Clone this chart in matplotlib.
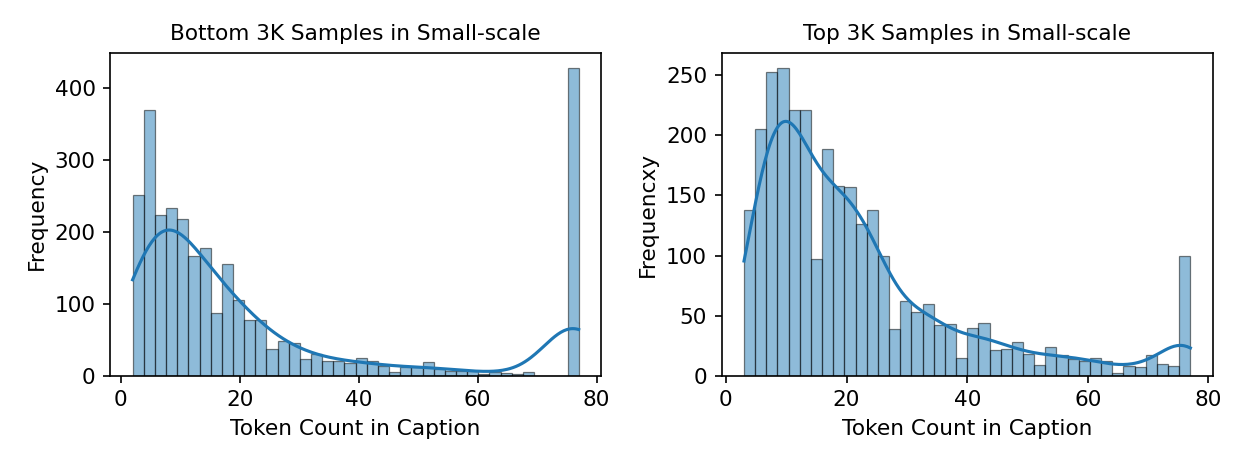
import numpy as np
import matplotlib
matplotlib.use("Agg")
import matplotlib.pyplot as plt

plt.rcParams["font.size"] = 10.4

# token-count histograms (40 bins each), counts
bottom_range = (2, 77)
bottom_counts = [252, 369, 223, 234, 218, 166, 177, 87, 155, 105,
                 77, 78, 37, 48, 45, 23, 30, 20, 20, 17,
                 24, 20, 14, 5, 12, 12, 19, 10, 7, 7,
                 6, 3, 5, 4, 3, 5, 0, 0, 0, 428]

top_range = (3, 77)
top_counts = [138, 205, 253, 256, 221, 221, 97, 189, 158, 157,
              126, 138, 100, 39, 62, 53, 60, 42, 43, 15,
              40, 44, 21, 22, 28, 18, 9, 24, 17, 14,
              12, 15, 12, 2, 8, 7, 17, 10, 8, 100]

titles = ["Bottom 3K Samples in Small-scale", "Top 3K Samples in Small-scale"]
ylabels = ["Frequency", "Frequencxy"]
xlabel = "Token Count in Caption"


def kde_curve(centers, counts, lo, hi, binw):
    # gaussian kde with scott bandwidth, scaled to counts like seaborn does
    w = np.asarray(counts, float)
    n = w.sum()
    mean = (w * centers).sum() / n
    var = (w * (centers - mean) ** 2).sum() / (n - 1) + binw ** 2 / 12
    bw = np.sqrt(var) * n ** (-1 / 5)
    grid = np.linspace(lo, hi, 300)
    z = (grid[:, None] - centers[None, :]) / bw
    dens = (w[None, :] * np.exp(-0.5 * z ** 2)).sum(1) / (bw * np.sqrt(2 * np.pi))
    return grid, dens * binw


def draw(ax, rng, counts, title, ylabel):
    counts = np.array(counts)
    edges = np.linspace(rng[0], rng[1], len(counts) + 1)
    binw = edges[1] - edges[0]
    centers = (edges[:-1] + edges[1:]) / 2
    ax.bar(edges[:-1], counts, width=binw, align="edge",
           facecolor=(0.12, 0.47, 0.71, 0.5), edgecolor=(0, 0, 0, 0.5), linewidth=0.6)
    gx, gy = kde_curve(centers, counts, rng[0], rng[1], binw)
    ax.plot(gx, gy, color="#1f77b4", linewidth=1.5)
    ax.set_xlim(rng[0] - 0.05 * (rng[1] - rng[0]), rng[1] + 0.05 * (rng[1] - rng[0]))
    ax.set_ylim(0, counts.max() * 1.05)
    ax.set_xticks([0, 20, 40, 60, 80])
    ax.set_title(title, fontsize=10.4)
    ax.set_xlabel(xlabel)
    ax.set_ylabel(ylabel)


fig = plt.figure(figsize=(1246 / 150, 467 / 150), dpi=150)
W, H = 1246, 467
ax1 = fig.add_axes([110.3 / W, (H - 375.7) / H, 490.7 / W, 323 / H])
ax2 = fig.add_axes([721.7 / W, (H - 375.7) / H, 491 / W, 323 / H])

draw(ax1, bottom_range, bottom_counts, titles[0], ylabels[0])
draw(ax2, top_range, top_counts, titles[1], ylabels[1])

fig.savefig("out.png", dpi=150)
